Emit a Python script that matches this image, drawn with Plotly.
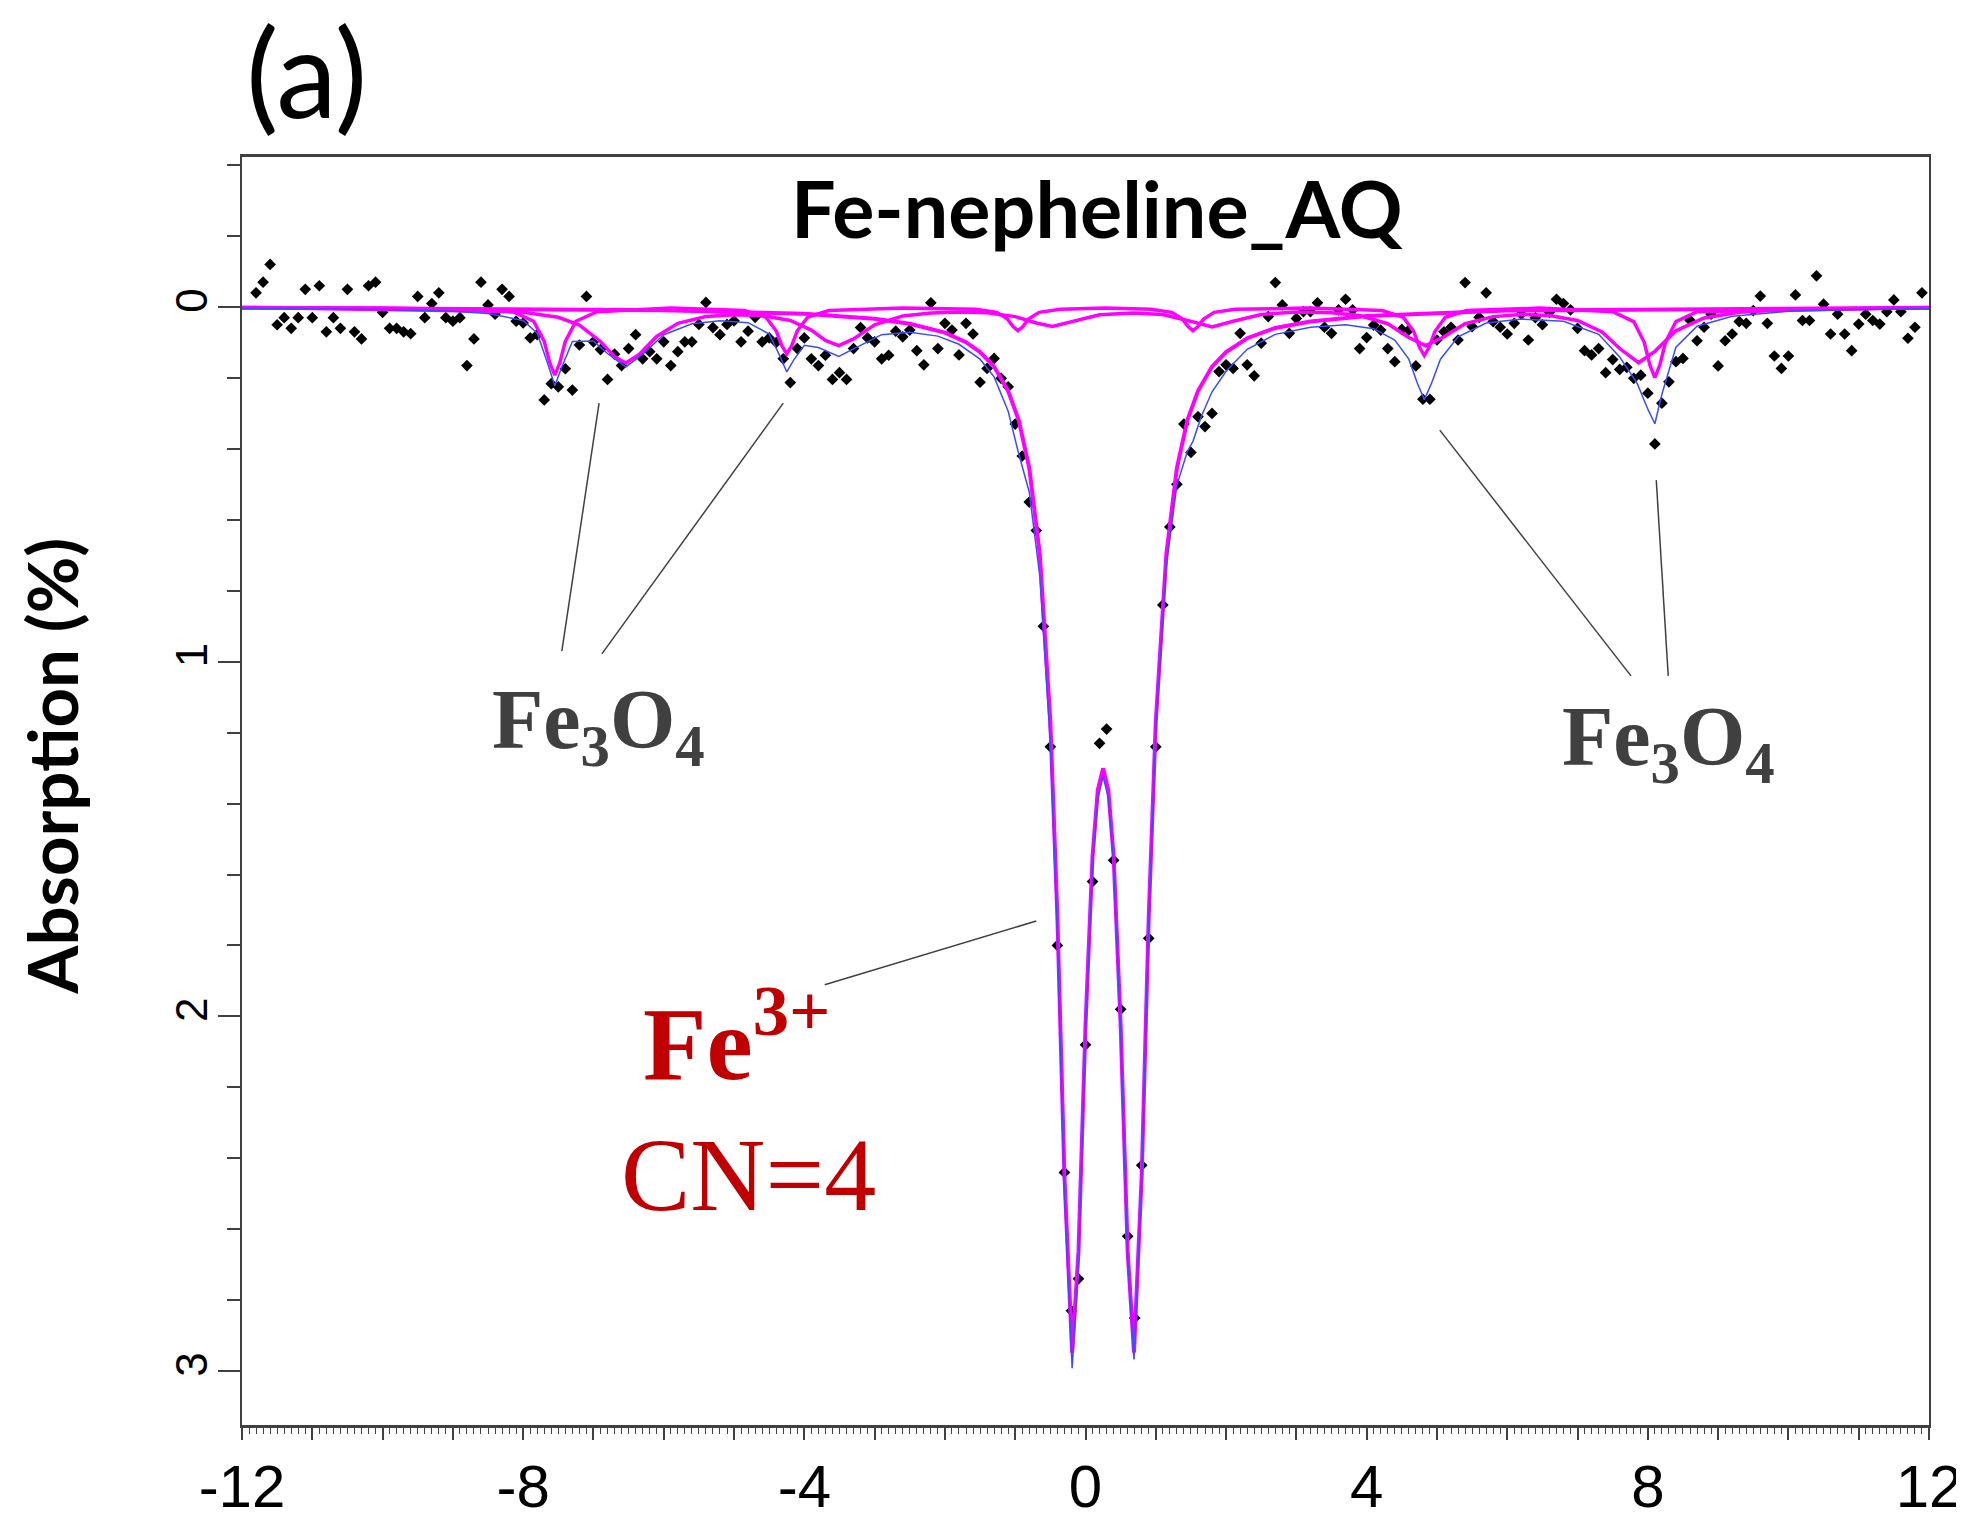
import plotly.graph_objects as go

# ---------------- data ----------------
# measured spectrum (velocity mm/s, absorption %)
DATA_V = [
    -11.8, -11.7, -11.6, -11.5, -11.4, -11.3, -11.2, -11.1, -11.0, -10.9,
    -10.8, -10.7, -10.6, -10.5, -10.4, -10.3, -10.2, -10.1, -10.0, -9.9,
    -9.8, -9.7, -9.6, -9.5, -9.4, -9.3, -9.2, -9.1, -9.0, -8.9,
    -8.8, -8.7, -8.6, -8.5, -8.4, -8.3, -8.2, -8.1, -8.0, -7.9,
    -7.8, -7.7, -7.6, -7.5, -7.4, -7.3, -7.2, -7.1, -7.0, -6.9,
    -6.8, -6.7, -6.6, -6.5, -6.4, -6.3, -6.2, -6.1, -6.0, -5.9,
    -5.8, -5.7, -5.6, -5.5, -5.4, -5.3, -5.2, -5.1, -5.0, -4.9,
    -4.8, -4.7, -4.6, -4.5, -4.4, -4.3, -4.2, -4.1, -4.0, -3.9,
    -3.8, -3.7, -3.6, -3.5, -3.4, -3.3, -3.2, -3.1, -3.0, -2.9,
    -2.8, -2.7, -2.6, -2.5, -2.4, -2.3, -2.2, -2.1, -2.0, -1.9,
    -1.8, -1.7, -1.6, -1.5, -1.4, -1.3, -1.2, -1.1, -1.0, -0.9,
    -0.8, -0.7, -0.6, -0.5, -0.4, -0.3, -0.2, -0.1, 0.0, 0.1,
    0.2, 0.3, 0.4, 0.5, 0.6, 0.7, 0.8, 0.9, 1.0, 1.1,
    1.2, 1.3, 1.4, 1.5, 1.6, 1.7, 1.8, 1.9, 2.0, 2.1,
    2.2, 2.3, 2.4, 2.5, 2.6, 2.7, 2.8, 2.9, 3.0, 3.1,
    3.2, 3.3, 3.4, 3.5, 3.6, 3.7, 3.8, 3.9, 4.0, 4.1,
    4.2, 4.3, 4.4, 4.5, 4.6, 4.7, 4.8, 4.9, 5.0, 5.1,
    5.2, 5.3, 5.4, 5.5, 5.6, 5.7, 5.8, 5.9, 6.0, 6.1,
    6.2, 6.3, 6.4, 6.5, 6.6, 6.7, 6.8, 6.9, 7.0, 7.1,
    7.2, 7.3, 7.4, 7.5, 7.6, 7.7, 7.8, 7.9, 8.0, 8.1,
    8.2, 8.3, 8.4, 8.5, 8.6, 8.7, 8.8, 8.9, 9.0, 9.1,
    9.2, 9.3, 9.4, 9.5, 9.6, 9.7, 9.8, 9.9, 10.0, 10.1,
    10.2, 10.3, 10.4, 10.5, 10.6, 10.7, 10.8, 10.9, 11.0, 11.1,
    11.2, 11.3, 11.4, 11.5, 11.6, 11.7, 11.8, 11.9,
]
DATA_Y = [
    -0.04, -0.07, -0.12, 0.05, 0.03, 0.06, 0.03, -0.05, 0.03, -0.06,
    0.07, 0.03, 0.06, -0.05, 0.07, 0.09, -0.06, -0.07, 0.015, 0.06,
    0.06, 0.07, 0.075, -0.03, 0.03, -0.01, -0.04, 0.03, 0.04, 0.03,
    0.165, 0.09, -0.07, -0.006, 0.02, -0.05, -0.03, 0.04, 0.045, 0.087,
    0.078, 0.262, 0.216, 0.225, 0.174, 0.234, 0.107, -0.03, 0.098, 0.12,
    0.204, 0.133, 0.165, 0.117, 0.078, 0.146, 0.126, 0.146, 0.098, 0.165,
    0.126, 0.098, 0.098, 0.049, -0.013, 0.058, 0.078, 0.049, 0.039, 0.098,
    0.068, 0.029, 0.098, 0.087, 0.10, 0.146, 0.213, 0.117, 0.087, 0.146,
    0.165, 0.136, 0.204, 0.185, 0.204, 0.117, 0.058, 0.087, 0.098, 0.146,
    0.136, 0.068, 0.084, 0.065, 0.123, 0.163, -0.012, 0.117, 0.046, 0.065,
    0.135, 0.046, 0.076, 0.212, 0.173, 0.145, 0.201, 0.225, 0.33, 0.42,
    0.55, 0.63, 0.90, 1.24, 1.80, 2.44, 2.83, 2.74, 2.08, 1.62,
    1.23, 1.19, 1.56, 1.98, 2.62, 2.85, 2.42, 1.78, 1.24, 0.84,
    0.62, 0.50, 0.33, 0.41, 0.309, 0.337, 0.30, 0.182, 0.163, 0.173,
    0.074, 0.163, 0.194, 0.102, 0.027, -0.069, -0.006, 0.074, 0.032, 0.013,
    0.013, -0.012, 0.057, 0.074, 0.008, -0.022, 0.008, 0.117, 0.086, 0.051,
    0.065, 0.117, 0.154, 0.063, 0.065, 0.166, 0.260, 0.260, 0.093, 0.07,
    0.057, 0.093, -0.069, 0.055, 0.029, -0.040, 0.041, 0.057, 0.076, 0.046,
    0.02, 0.093, 0.03, 0.05, 0.015, -0.022, -0.01, 0.008, 0.06, 0.123,
    0.135, 0.117, 0.185, 0.148, 0.176, 0.17, 0.201, 0.192, 0.243, 0.386,
    0.271, 0.211, 0.154, 0.145, 0.037, 0.095, 0.057, 0.020, 0.166, 0.095,
    0.076, 0.041, 0.046, 0.01, -0.031, 0.046, 0.138, 0.173, 0.138, -0.034,
    0.038, 0.038, -0.088, -0.008, 0.076, 0.020, 0.076, 0.123, 0.048, 0.020,
    0.038, 0.048, 0.013, -0.020, 0.013, 0.088, 0.057, -0.04,
]

# total fit (blue)
TOTAL_V = [-12, -10, -9, -8.5, -8, -7.8, -7.65, -7.55, -7.45, -7.3,
           -7.0, -6.8, -6.54, -6.3, -6.0, -5.6, -5.2, -4.8, -4.5, -4.35,
           -4.25, -4.15, -4.0, -3.8, -3.51, -3.2, -2.9, -2.5, -2.1, -1.8,
           -1.5, -1.3, -1.1, -0.96, -0.8, -0.65, -0.5, -0.4, -0.3, -0.19,
           -0.1, 0.0, 0.1, 0.175, 0.25, 0.325, 0.4, 0.5, 0.6, 0.69,
           0.8, 0.9, 1.0, 1.15, 1.3, 1.45, 1.53, 1.65, 1.8, 2.0,
           2.3, 2.7, 3.2, 3.7, 4.1, 4.4, 4.6, 4.72, 4.82, 4.92,
           5.05, 5.3, 5.7, 6.2, 6.8, 7.3, 7.6, 7.85, 8.0, 8.1,
           8.2, 8.4, 8.7, 9.2, 10, 11, 12]
TOTAL_Y = [0.004, 0.007, 0.012, 0.018, 0.038, 0.074, 0.160, 0.222, 0.169, 0.097,
           0.096, 0.131, 0.169, 0.133, 0.078, 0.047, 0.039, 0.044, 0.076, 0.137,
           0.183, 0.149, 0.108, 0.114, 0.139, 0.107, 0.078, 0.071, 0.082, 0.105,
           0.147, 0.197, 0.294, 0.406, 0.522, 0.758, 1.231, 1.776, 2.500, 2.992,
           2.701, 2.057, 1.576, 1.387, 1.324, 1.383, 1.569, 2.044, 2.683, 2.967,
           2.466, 1.738, 1.193, 0.729, 0.502, 0.407, 0.378, 0.307, 0.239, 0.181,
           0.119, 0.077, 0.057, 0.050, 0.061, 0.093, 0.147, 0.214, 0.261, 0.216,
           0.147, 0.084, 0.045, 0.034, 0.040, 0.077, 0.141, 0.216, 0.288, 0.329,
           0.246, 0.113, 0.054, 0.026, 0.012, 0.007, 0.005]

# Fe3+ doublet component (magenta)
DOUBLET_V = [-12, -6, -4, -3, -2.5, -2, -1.7, -1.5, -1.3, -1.1,
             -0.95, -0.8, -0.65, -0.5, -0.4, -0.3, -0.19, -0.1, 0.0, 0.1,
             0.175, 0.25, 0.325, 0.4, 0.5, 0.6, 0.69, 0.8, 0.9, 1.0,
             1.15, 1.3, 1.45, 1.6, 1.8, 2.0, 2.3, 2.7, 3.2, 4,
             6, 12]
DOUBLET_Y = [0.002, 0.009, 0.019, 0.033, 0.047, 0.072, 0.099, 0.127, 0.168, 0.237,
             0.319, 0.454, 0.697, 1.169, 1.717, 2.447, 2.948, 2.664, 2.025, 1.549,
             1.362, 1.301, 1.362, 1.549, 2.025, 2.664, 2.948, 2.447, 1.717, 1.169,
             0.697, 0.454, 0.319, 0.237, 0.168, 0.127, 0.088, 0.059, 0.041, 0.025,
             0.010, 0.002]

# Fe3O4 sextet, sharp component (magenta)
SEXTET_A_V = [-12,
              -8.15, -7.85, -7.70, -7.62, -7.55, -7.48, -7.40, -7.25, -6.95,
              -5.9,
              -4.85, -4.55, -4.40, -4.32, -4.25, -4.18, -4.10, -3.95, -3.65,
              -2.6,
              -1.56, -1.26, -1.11, -1.03, -0.96, -0.89, -0.81, -0.66, -0.36,
              0.28,
              0.93, 1.23, 1.38, 1.46, 1.53, 1.60, 1.68, 1.83, 2.13,
              3.17,
              4.22, 4.52, 4.67, 4.75, 4.82, 4.89, 4.97, 5.12, 5.42,
              6.46,
              7.50, 7.80, 7.95, 8.03, 8.10, 8.17, 8.25, 8.40, 8.70,
              12]
SEXTET_A_Y = [0.001,
              0.013, 0.040, 0.097, 0.158, 0.192, 0.158, 0.097, 0.040, 0.013,
              0.003,
              0.010, 0.028, 0.067, 0.109, 0.132, 0.109, 0.067, 0.028, 0.010,
              0.003,
              0.006, 0.015, 0.034, 0.055, 0.067, 0.055, 0.034, 0.015, 0.006,
              0.003,
              0.006, 0.015, 0.034, 0.055, 0.067, 0.055, 0.034, 0.015, 0.006,
              0.003,
              0.010, 0.029, 0.069, 0.113, 0.137, 0.113, 0.069, 0.029, 0.010,
              0.003,
              0.013, 0.041, 0.100, 0.164, 0.199, 0.164, 0.100, 0.041, 0.013,
              0.001]

# Fe3O4 sextet, broad component (magenta)
SEXTET_B_V = [-12, -10, -9, -8.5, -8, -7.5, -7.2, -6.9, -6.7, -6.54,
              -6.35, -6.1, -5.8, -5.4, -5.0, -4.6, -4.2, -3.9, -3.7, -3.51,
              -3.3, -3.0, -2.6, -2.2, -1.8, -1.4, -1.0, -0.7, -0.47, -0.2,
              0.2, 0.67, 1.1, 1.55, 1.80, 2.1, 2.5, 3.0, 3.5, 3.9,
              4.3, 4.6, 4.84, 5.1, 5.4, 5.8, 6.2, 6.6, 7.0, 7.35,
              7.6, 7.87, 8.1, 8.4, 8.8, 9.3, 10, 11, 12]
SEXTET_B_Y = [0.002, 0.003, 0.006, 0.009, 0.015, 0.029, 0.051, 0.097, 0.140, 0.158,
              0.134, 0.083, 0.046, 0.027, 0.022, 0.024, 0.038, 0.065, 0.094, 0.109,
              0.090, 0.050, 0.025, 0.017, 0.014, 0.016, 0.027, 0.045, 0.055, 0.042,
              0.022, 0.017, 0.021, 0.043, 0.056, 0.040, 0.021, 0.014, 0.016, 0.024,
              0.047, 0.086, 0.109, 0.084, 0.047, 0.027, 0.021, 0.024, 0.038, 0.070,
              0.117, 0.157, 0.125, 0.067, 0.031, 0.015, 0.007, 0.004, 0.002]

X_TICK_VALUES = [-12, -11, -10, -9, -8, -7, -6, -5, -4, -3, -2, -1, 0,
                 1, 2, 3, 4, 5, 6, 7, 8, 9, 10, 11, 12]
X_TICK_LABELS = ["-12", "", "", "", "-8", "", "", "", "-4", "", "", "", "0",
                 "", "", "", "4", "", "", "", "8", "", "", "", "12"]
Y_TICK_VALUES = [0, 1, 2, 3]
Y_TICK_LABELS = ["0", "1", "2", "3"]

TITLE = "Fe-nepheline_AQ"
PANEL = "(a)"
Y_TITLE = "Absorption (%)"

assert len(DATA_V) == len(DATA_Y)
assert len(TOTAL_V) == len(TOTAL_Y)
assert len(DOUBLET_V) == len(DOUBLET_Y)
assert len(SEXTET_A_V) == len(SEXTET_A_Y)
assert len(SEXTET_B_V) == len(SEXTET_B_Y)

# ---------------- figure ----------------
MAGENTA = "#ff00ff"
BLUE = "#3a4cff"
AXIS = "#404040"
DARKRED = "#c00000"
GRAY = "#404040"

fig = go.Figure()

fig.add_trace(go.Scatter(x=DATA_V, y=DATA_Y, mode="markers",
                         marker=dict(symbol="diamond", size=9, color="black"),
                         hoverinfo="skip"))
fig.add_trace(go.Scatter(x=SEXTET_B_V, y=SEXTET_B_Y, mode="lines",
                         line=dict(color=MAGENTA, width=3.5)))
fig.add_trace(go.Scatter(x=SEXTET_A_V, y=SEXTET_A_Y, mode="lines",
                         line=dict(color=MAGENTA, width=3.5)))
fig.add_trace(go.Scatter(x=DOUBLET_V, y=DOUBLET_Y, mode="lines",
                         line=dict(color=MAGENTA, width=4)))
fig.add_trace(go.Scatter(x=TOTAL_V, y=TOTAL_Y, mode="lines",
                         line=dict(color=BLUE, width=1.5)))

# the page body adds an 8 px offset, margins compensate for it
fig.update_layout(
    width=1964, height=1528,
    margin=dict(l=234, r=43, t=149, b=111),
    plot_bgcolor="white", paper_bgcolor="white",
    showlegend=False,
)

fig.update_xaxes(
    range=[-12, 12], automargin=False,
    tickmode="array", tickvals=X_TICK_VALUES, ticktext=X_TICK_LABELS,
    ticks="outside", ticklen=12, tickwidth=1.5, tickcolor=AXIS,
    minor=dict(tickmode="linear", tick0=-12, dtick=0.1, ticks="outside",
               ticklen=6, tickwidth=1, tickcolor=AXIS, showgrid=False),
    showline=True, linewidth=2.5, linecolor=AXIS, mirror=True,
    showgrid=False, zeroline=False,
    tickfont=dict(family="Liberation Sans, Arial", size=60, color="black"),
    ticklabelstandoff=-5, ticklabeloverflow="allow",
)
fig.update_yaxes(
    range=[3.152, -0.423], automargin=False,
    tickmode="array", tickvals=Y_TICK_VALUES, ticktext=Y_TICK_LABELS,
    ticks="outside", ticklen=22, tickwidth=1.5, tickcolor=AXIS,
    minor=dict(tickmode="linear", tick0=0, dtick=0.2, ticks="outside",
               ticklen=13, tickwidth=1.5, tickcolor=AXIS, showgrid=False),
    showline=True, linewidth=2, linecolor=AXIS, mirror=True,
    showgrid=False, zeroline=False, tickangle=-90,
    tickfont=dict(family="Liberation Sans, Arial", size=44, color="black"),
    ticklabelstandoff=-7, ticklabeloverflow="allow",
)

annotations = [
    dict(text=PANEL, xref="paper", yref="paper", x=0.0385, y=1.0681,
         xanchor="center", yanchor="middle", showarrow=False,
         font=dict(family="Lato, Open Sans", size=122, color="black")),
    dict(text="<b>" + TITLE + "</b>", xref="paper", yref="paper", x=0.5068, y=0.9605,
         xanchor="center", yanchor="middle", showarrow=False,
         font=dict(family="Lato, Open Sans", size=79, color="black")),
    dict(text="<b>" + Y_TITLE + "</b>", xref="paper", yref="paper", x=-0.113, y=0.5197,
         xanchor="center", yanchor="middle", showarrow=False, textangle=-90,
         font=dict(family="Lato, Open Sans", size=69, color="black")),
    dict(text="<b>Fe<sub>3</sub>O<sub>4</sub></b>", x=-6.93, y=1.18,
         xanchor="center", yanchor="middle", showarrow=False,
         font=dict(family="Liberation Serif, Times New Roman", size=84, color=GRAY)),
    dict(text="<b>Fe<sub>3</sub>O<sub>4</sub></b>", x=8.29, y=1.229,
         xanchor="center", yanchor="middle", showarrow=False,
         font=dict(family="Liberation Serif, Times New Roman", size=84, color=GRAY)),
    dict(text="<b>Fe<sup>3+</sup></b>", x=-4.96, y=2.055,
         xanchor="center", yanchor="middle", showarrow=False,
         font=dict(family="Liberation Serif, Times New Roman", size=104, color=DARKRED)),
    dict(text="CN=4", x=-4.80, y=2.445,
         xanchor="center", yanchor="middle", showarrow=False,
         font=dict(family="Liberation Serif, Times New Roman", size=104, color=DARKRED)),
]
fig.update_layout(annotations=annotations)

LEADERS = [
    ((-3.71, 1.911), (-0.70, 1.731)),
    ((-7.45, 0.970), (-6.92, 0.271)),
    ((-6.88, 0.978), (-4.30, 0.271)),
    ((5.04, 0.347), (7.76, 1.040)),
    ((8.12, 0.488), (8.29, 1.040)),
]
for (x0, y0), (x1, y1) in LEADERS:
    fig.add_shape(type="line", x0=x0, y0=y0, x1=x1, y1=y1, xref="x", yref="y",
                  line=dict(color=GRAY, width=1.5))

fig.write_html("out.html")
